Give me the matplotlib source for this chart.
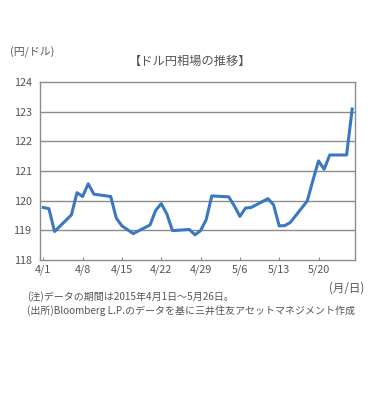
import matplotlib
matplotlib.use("Agg")
import matplotlib.pyplot as plt
import numpy as np

plt.rcParams['font.family'] = ['Noto Sans CJK JP', 'DejaVu Sans']

# business days, as day offsets from 4/1
days = [0, 1, 2, 5, 6, 7, 8, 9, 12, 13, 14, 15, 16, 19, 20, 21, 22, 23,
        26, 27, 28, 29, 30, 33, 34, 35, 36, 37, 40, 41, 42, 43, 44,
        47, 48, 49, 50, 51, 54, 55]
rate = [119.77, 119.73, 118.96, 119.52, 120.27, 120.14, 120.57, 120.22,
        120.14, 119.41, 119.15, 119.02, 118.89, 119.18, 119.67, 119.90,
        119.55, 118.99, 119.03, 118.85, 118.99, 119.36, 120.16, 120.13,
        119.83, 119.47, 119.75, 119.77, 120.07, 119.86, 119.15, 119.16,
        119.27, 119.99, 120.68, 121.34, 121.06, 121.54, 121.54, 123.09]
tick_days = [0, 7, 14, 21, 28, 35, 42, 49]
tick_labels = ['4/1', '4/8', '4/15', '4/22', '4/29', '5/6', '5/13', '5/20']
y_ticks = [118, 119, 120, 121, 122, 123, 124]

fig = plt.figure(figsize=(3.84, 4.01), dpi=100)
ax = fig.add_axes([0.104, 0.3516, 0.8205, 0.4439])

grey = '#555555'
for y in y_ticks[1:-1]:
    ax.axhline(y, color='#8c8c8c', lw=1.0, zorder=1)
ax.plot(days, rate, color='#3a78c2', lw=2.2, zorder=3, solid_joinstyle='round')

ax.set_xlim(-0.6, 55.5)
ax.set_ylim(118, 124)
ax.set_yticks(y_ticks)
ax.set_yticklabels([str(v) for v in y_ticks])
ax.set_xticks(tick_days)
ax.set_xticklabels(tick_labels)
ax.tick_params(axis='y', length=0, pad=6, labelsize=7.8, colors=grey)
ax.tick_params(axis='x', direction='in', length=2, pad=3, labelsize=7.8,
               colors=grey, color='#8c8c8c')
for s in ax.spines.values():
    s.set_color('#8c8c8c')
    s.set_linewidth(1.0)

fig.text(10/384, 1-52/401, '(円/ドル)', fontsize=7.8, color=grey, va='center')
fig.text(190/384, 1-61/401, '【ドル円相場の推移】', fontsize=8.8, color=grey,
         va='center', ha='center')
fig.text(364/384, 1-288/401, '(月/日)', fontsize=8.3, color=grey,
         va='center', ha='right')
fig.text(27/384, 1-297/401, '(注)データの期間は2015年4月1日～5月26日。',
         fontsize=7.2, color=grey, va='center')
fig.text(27/384, 1-311/401,
         '(出所)Bloomberg L.P.のデータを基に三井住友アセットマネジメント作成',
         fontsize=7.2, color=grey, va='center')

fig.savefig('out.png', dpi=100)
